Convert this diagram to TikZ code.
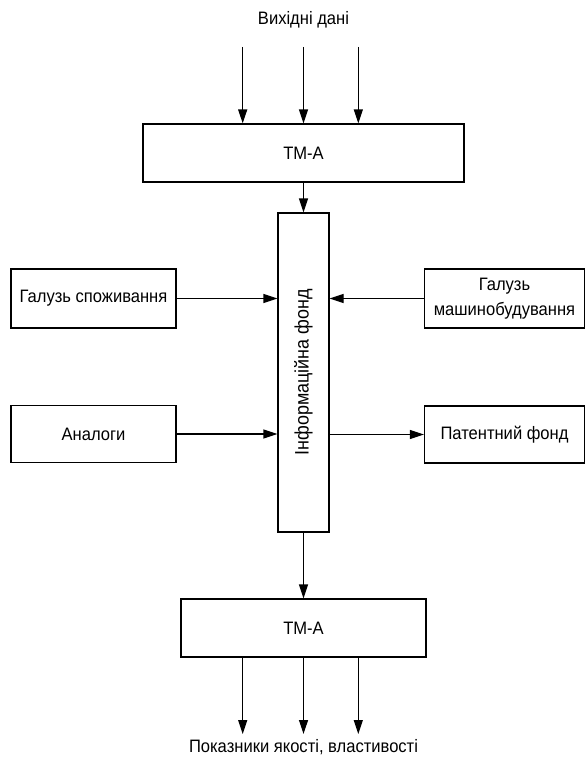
\documentclass[tikz,border=0pt]{standalone}
\usepackage{fontspec}
\setmainfont{Liberation Sans}[FakeStretch=0.92]
\usetikzlibrary{arrows.meta}

\tikzset{
  block/.style={draw, line width=1.2pt, inner sep=0pt, align=center},
  flow/.style={-{Triangle[length=14pt,width=9pt]}, line width=1.2pt}
}

\begin{document}
\begin{tikzpicture}[x=1pt,y=-1pt,font=\fontsize{18}{25}\selectfont]
    \useasboundingbox (0,0) rectangle (586,760);
    % Input and output labels
    \node (vhid) at (303.5,20) {Вихідні дані};
    \node (pokaz) at (303.5,747) {Показники якості, властивості};
    % Main column
    \node[block, minimum width=321pt, minimum height=58pt] (tma1) at (303.5,153) {ТМ-А};
    \node[block, minimum width=51pt, minimum height=319pt] (fond) at (303.5,372.5) {};
    \node[rotate=90, font=\fontsize{19.5}{25}\selectfont] (fondtxt) at (fond.center) {Інформаційна фонд};
    \node[block, minimum width=245pt, minimum height=58pt] (tma2) at (303.5,628) {ТМ-А};
    % Side blocks
    \node[block, minimum width=165pt, minimum height=59pt] (spoz) at (93.5,298.5) {Галузь споживання};
    \node[block, minimum width=165pt, minimum height=57pt] (anal) at (93.5,434) {Аналоги};
    \node[block, minimum width=160pt, minimum height=59pt] (mash) at (504.5,298.5) {Галузь\\машинобудування};
    \node[block, minimum width=160pt, minimum height=57pt] (pat) at (504.5,434.5) {Патентний фонд};
    % Input and output arrows
    \coordinate (a1) at (242.7,47);
    \coordinate (a2) at (303.5,47);
    \coordinate (a3) at (358.3,47);
    \coordinate (b1) at (242.7,734);
    \coordinate (b2) at (303.5,734);
    \coordinate (b3) at (358.3,734);
    \foreach \i in {1,2,3} {
        \draw[flow] (a\i) -- (a\i |- tma1.north);
        \draw[flow] (b\i |- tma2.south) -- (b\i);
    }
    % Links to the fund
    \draw[flow] (tma1.south) -- (fond.north);
    \draw[flow] (fond.south) -- (tma2.north);
    \draw[flow] (spoz.east) -- (spoz.east -| fond.west);
    \draw[flow] (anal.east) -- (anal.east -| fond.west);
    \draw[flow] (mash.west) -- (mash.west -| fond.east);
    \draw[flow] (pat.west -| fond.east) -- (pat.west);
\end{tikzpicture}
\end{document}
